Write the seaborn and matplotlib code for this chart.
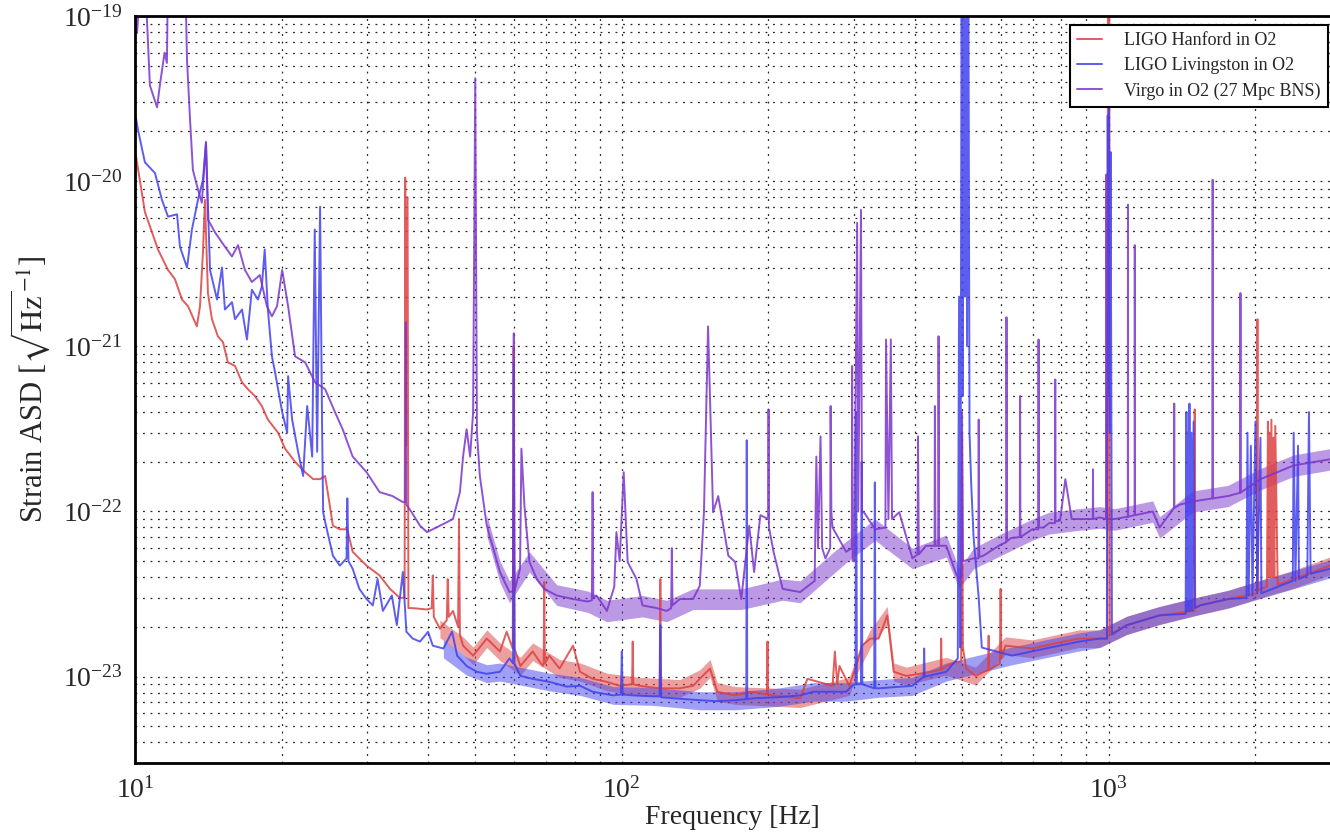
import matplotlib
matplotlib.use("Agg")
import matplotlib.pyplot as plt
import seaborn as sns
import pandas as pd
from matplotlib.ticker import LogLocator, NullFormatter, FixedLocator, LogFormatterMathtext

# ---------------- data: (frequency [Hz], strain ASD) ----------------
hanford_points = [
    (10.0, 1.55e-20), (10.48, 6.5e-21), (10.84, 4.9e-21), (11.15, 3.85e-21), (11.69, 2.9e-21),
    (12.08, 2.55e-21), (12.49, 1.92e-21), (12.85, 1.75e-21), (13.4, 1.32e-21), (13.6, 1.75e-21),
    (13.79, 3.7e-21), (13.92, 7.7e-21), (14.12, 2.1e-21), (14.39, 1.46e-21), (14.8, 1.15e-21),
    (15.16, 1.06e-21), (15.52, 8.0e-22), (16.05, 7.6e-22), (16.59, 6.05e-22), (17.06, 5.5e-22),
    (17.63, 5.0e-22), (18.22, 4.35e-22), (18.75, 3.6e-22), (19.67, 3.0e-22), (20.34, 2.4e-22),
    (21.32, 2.0e-22), (22.36, 1.73e-22), (23.23, 1.57e-22), (24.0, 1.57e-22), (24.58, 1.64e-22),
    (25.0, 1.2e-22), (25.5, 8.2e-23), (26.35, 7.8e-23), (27.3, 7.8e-23), (28.0, 5.7e-23),
    (29.9, 4.7e-23), (31.8, 4.1e-23), (33.4, 3.4e-23), (35.0, 3.0e-23), (35.8, 3.0e-23),
    (35.9, 1.05e-20), (36.05, 2.5e-22), (36.3, 8.0e-21), (36.45, 2.6e-23), (37.2, 2.6e-23),
    (39.8, 2.55e-23), (40.7, 2.6e-23), (40.9, 4.1e-23), (41.1, 2.3e-23), (42.3, 1.95e-23),
    (43.7, 2.2e-23), (43.9, 3.9e-23), (44.1, 2.3e-23), (45.0, 2.5e-23), (46.1, 2.0e-23),
    (46.3, 9.0e-23), (46.5, 1.8e-23), (47.2, 1.54e-23), (49.5, 1.34e-23), (52.8, 1.7e-23),
    (56.2, 1.42e-23), (58.0, 1.87e-23), (59.7, 1.48e-23), (59.95, 1.0e-21), (60.2, 1.48e-23),
    (61.9, 1.16e-23), (65.6, 1.42e-23), (68.8, 1.16e-23), (69.1, 1.2e-23), (69.3, 3.75e-23),
    (69.5, 1.2e-23), (71.0, 1.34e-23), (74.5, 1.12e-23), (79.4, 1.54e-23), (82.1, 1.07e-23),
    (87.1, 9.7e-24), (93.2, 9.3e-24), (99.1, 8.8e-24), (105.0, 9.0e-24), (105.3, 1.63e-23),
    (105.6, 9.0e-24), (108.8, 8.8e-24), (119.6, 8.5e-24), (120.0, 3.9e-23), (120.4, 8.5e-24),
    (131.6, 8.5e-24), (140.1, 8.8e-24), (144.6, 9.7e-24), (151.8, 1.12e-23), (157.1, 8.1e-24),
    (170.9, 7.7e-24), (184.4, 8.1e-24), (198.8, 7.8e-24), (199.2, 1.63e-23), (199.6, 7.8e-24),
    (205.0, 7.7e-24), (232.5, 7.4e-24), (240.6, 9.7e-24), (271.0, 8.8e-24), (274.0, 1.42e-23),
    (277.0, 9.0e-24), (280.0, 1.16e-23), (293.3, 8.8e-24), (303.0, 1.16e-23), (311.4, 1.54e-23),
    (324.0, 1.7e-23), (337.0, 1.7e-23), (351.0, 2.35e-23), (362.0, 1.07e-23), (384.0, 1.01e-23),
    (408.7, 1.04e-23), (452.0, 1.1e-23), (453.0, 1.7e-23), (454.0, 1.1e-23), (464.0, 1.16e-23),
    (486.0, 1.23e-23), (498.0, 1.23e-23), (500.0, 3.0e-22), (502.0, 1.5e-23), (510.0, 1.12e-23),
    (533.0, 1.01e-23), (566.0, 1.1e-23), (567.0, 1.77e-23), (568.0, 1.1e-23), (598.0, 1.2e-23),
    (600.0, 3.4e-23), (602.0, 1.3e-23), (614.0, 1.54e-23), (697.0, 1.48e-23), (808.0, 1.63e-23),
    (870.0, 1.7e-23), (958.0, 1.7e-23), (995.0, 1.7e-23), (997.0, 3.0e-19), (1000.0, 2.0e-21),
    (1003.0, 3.0e-19), (1006.0, 1.8e-23), (1090.0, 2.05e-23), (1273.0, 2.35e-23), (1500.0, 2.5e-23),
    (1503.0, 4.15e-22), (1506.0, 2.6e-23), (1541.0, 2.7e-23), (1760.0, 2.95e-23), (2018.0, 3.2e-23),
    (2022.0, 1.46e-21), (2026.0, 3.3e-23), (2051.0, 3.4e-23), (2115.0, 3.5e-23), (2125.0, 3.5e-22),
    (2130.0, 4.0e-23), (2140.0, 3.0e-22), (2150.0, 4.0e-23), (2160.0, 3.6e-22), (2170.0, 4.0e-23),
    (2180.0, 2.8e-22), (2190.0, 4.0e-23), (2200.0, 3.3e-22), (2225.0, 3.6e-23), (2400.0, 3.9e-23),
    (2850.0, 4.7e-23)]

livingston_points = [
    (10.0, 2.6e-20), (10.14, 2.05e-20), (10.48, 1.3e-20), (10.99, 1.12e-20), (11.36, 7.7e-21),
    (11.69, 6.1e-21), (12.2, 6.3e-21), (12.37, 4.0e-21), (12.79, 3.0e-21), (13.09, 5.1e-21),
    (13.47, 7.7e-21), (13.79, 1.02e-20), (13.99, 1.7e-20), (14.26, 2.9e-21), (14.74, 1.92e-21),
    (15.09, 3.0e-21), (15.3, 1.67e-21), (15.82, 1.85e-21), (16.05, 1.46e-21), (16.59, 1.67e-21),
    (16.98, 1.1e-21), (17.38, 2.2e-21), (17.89, 1.92e-21), (18.22, 2.3e-21), (18.47, 3.85e-21),
    (18.75, 1.67e-21), (19.11, 8.7e-22), (19.39, 7.0e-22), (20.06, 4.0e-22), (20.54, 3.0e-22),
    (20.63, 6.6e-22), (21.03, 3.6e-22), (21.63, 2.3e-22), (22.15, 1.64e-22), (22.58, 4.35e-22),
    (23.12, 2.15e-22), (23.4, 5.1e-21), (23.67, 2.3e-22), (24.0, 7.0e-21), (24.23, 3.15e-22),
    (24.35, 9.9e-23), (24.58, 8.65e-23), (25.5, 5.4e-23), (26.35, 4.7e-23), (27.2, 5.2e-23),
    (27.3, 1.2e-22), (27.45, 5.0e-23), (28.0, 4.5e-23), (28.9, 3.4e-23), (29.9, 2.95e-23),
    (30.8, 2.7e-23), (31.5, 3.9e-23), (32.3, 2.5e-23), (33.7, 3.1e-23), (34.5, 2.05e-23),
    (35.5, 4.3e-23), (36.1, 1.87e-23), (37.2, 1.7e-23), (38.5, 1.63e-23), (40.0, 1.87e-23),
    (40.9, 1.54e-23), (43.0, 1.48e-23), (44.8, 1.87e-23), (45.9, 1.34e-23), (48.0, 1.16e-23),
    (50.4, 1.07e-23), (52.8, 1.04e-23), (56.2, 1.07e-23), (58.8, 1.29e-23), (59.8, 1.2e-23),
    (60.0, 8.0e-22), (60.2, 1.2e-23), (61.9, 1.01e-23), (65.6, 9.7e-24), (71.0, 9.3e-24),
    (77.1, 8.7e-24), (82.1, 8.8e-24), (87.1, 8.1e-24), (96.0, 7.7e-24), (99.6, 7.8e-24),
    (100.0, 1.42e-23), (100.4, 7.8e-24), (105.3, 7.7e-24), (115.8, 7.6e-24), (119.6, 7.6e-24),
    (120.0, 2.05e-23), (120.4, 7.5e-24), (127.3, 7.4e-24), (144.6, 7.2e-24), (157.1, 7.1e-24),
    (170.9, 7.2e-24), (180.2, 7.3e-24), (180.6, 2.7e-22), (181.0, 7.3e-24), (187.0, 7.4e-24),
    (208.2, 7.5e-24), (232.5, 7.7e-24), (247.7, 8.1e-24), (289.0, 8.1e-24), (297.3, 8.8e-24),
    (302.0, 9.0e-24), (303.0, 4.0e-22), (304.0, 9.0e-24), (310.0, 9.0e-24), (311.0, 2.0e-22),
    (312.0, 9.0e-24), (330.0, 8.5e-24), (331.0, 1.5e-22), (332.0, 8.5e-24), (337.0, 8.5e-24),
    (395.0, 8.8e-24), (417.0, 1.0e-23), (418.0, 1.48e-23), (419.0, 1.0e-23), (464.0, 1.07e-23),
    (490.0, 1.29e-23), (493.0, 2.0e-21), (496.0, 1.5e-23), (499.0, 3.0e-19), (502.0, 5.0e-22),
    (504.0, 3.0e-19), (507.0, 2.0e-21), (509.0, 3.0e-19), (512.0, 1.0e-21), (515.0, 3.0e-19),
    (518.0, 3.0e-22), (522.0, 1.5e-22), (528.0, 7.0e-23), (541.0, 3.0e-23), (549.0, 1.5e-23),
    (633.0, 1.34e-23), (742.0, 1.48e-23), (870.0, 1.63e-23), (958.0, 1.7e-23), (992.0, 1.7e-23),
    (996.0, 2.5e-20), (999.0, 5.0e-22), (1002.0, 3.0e-20), (1006.0, 3.0e-22), (1010.0, 1.5e-20),
    (1016.0, 1.8e-23), (1090.0, 2.05e-23), (1273.0, 2.35e-23), (1440.0, 2.4e-23), (1445.0, 4.0e-22),
    (1450.0, 2.5e-23), (1455.0, 3.0e-22), (1460.0, 2.5e-23), (1466.0, 4.5e-22), (1472.0, 2.5e-23),
    (1480.0, 3.0e-22), (1487.0, 2.5e-23), (1495.0, 3.5e-22), (1505.0, 2.6e-23), (1541.0, 2.7e-23),
    (1760.0, 2.95e-23), (1920.0, 3.0e-23), (1929.0, 3.0e-22), (1940.0, 3.1e-23), (1960.0, 2.5e-22),
    (1975.0, 3.1e-23), (2003.0, 3.5e-22), (2020.0, 3.2e-23), (2051.0, 2.8e-22), (2060.0, 3.2e-23),
    (2390.0, 3.8e-23), (2400.0, 3.0e-22), (2420.0, 3.8e-23), (2450.0, 2.5e-22), (2460.0, 3.9e-23),
    (2560.0, 4.1e-23), (2580.0, 4.0e-22), (2600.0, 4.2e-23), (2850.0, 4.5e-23)]

virgo_points = [
    (10.0, 1.1e-19), (10.1, 7.9e-20), (10.4, 3.0e-19), (10.73, 3.8e-20), (11.1, 2.8e-20),
    (11.26, 3.9e-20), (11.5, 6.0e-20), (11.63, 5.2e-20), (11.69, 2.0e-19), (12.67, 2.0e-19),
    (12.79, 5.4e-20), (12.97, 2.4e-20), (13.15, 1.17e-20), (13.47, 8.9e-21), (13.72, 7.4e-21),
    (13.99, 1.73e-20), (14.12, 5.85e-21), (14.6, 4.9e-21), (15.09, 4.25e-21), (15.82, 3.5e-21),
    (16.28, 4.1e-21), (16.82, 2.9e-21), (17.38, 2.45e-21), (18.05, 2.7e-21), (18.66, 1.75e-21),
    (19.11, 1.52e-21), (19.58, 1.75e-21), (20.06, 2.9e-21), (20.63, 1.75e-21), (21.32, 8.7e-22),
    (22.36, 8.0e-22), (23.45, 6.05e-22), (24.58, 5.5e-22), (25.75, 4.0e-22), (26.7, 3.15e-22),
    (28.0, 2.15e-22), (29.9, 1.73e-22), (31.8, 1.31e-22), (33.8, 1.24e-22), (35.5, 1.14e-22),
    (35.9, 1.14e-22), (36.0, 1.4e-21), (36.1, 1.1e-22), (37.0, 9.9e-23), (38.5, 8.2e-23),
    (39.8, 7.5e-23), (42.3, 8.2e-23), (45.0, 9.0e-23), (46.5, 1.31e-22), (47.2, 2.15e-22),
    (48.0, 3.15e-22), (48.8, 2.15e-22), (49.5, 4.0e-22), (50.0, 4.2e-20), (50.4, 3.0e-22),
    (51.1, 1.64e-22), (52.8, 8.2e-23), (56.2, 4.3e-23), (58.8, 3.25e-23), (59.8, 3.3e-23),
    (60.0, 1.2e-21), (60.2, 3.3e-23), (61.8, 4.5e-23), (62.2, 2.4e-22), (63.1, 1.08e-22),
    (64.6, 4.95e-23), (66.9, 3.9e-23), (69.3, 3.4e-23), (73.5, 3.1e-23), (79.4, 2.95e-23),
    (85.1, 2.85e-23), (86.8, 2.9e-23), (87.1, 1.31e-22), (87.4, 3.0e-23), (88.7, 3.1e-23),
    (93.2, 2.5e-23), (96.5, 3.5e-23), (97.5, 7.5e-23), (99.0, 5.0e-23), (100.9, 1.73e-22),
    (102.8, 4.95e-23), (107.2, 3.9e-23), (110.3, 2.7e-23), (118.0, 2.6e-23), (123.7, 2.5e-23),
    (126.3, 2.6e-23), (126.7, 6.0e-23), (127.1, 2.7e-23), (131.6, 2.95e-23), (140.1, 2.95e-23),
    (144.6, 3.55e-23), (147.5, 9.9e-23), (150.4, 1.32e-21), (154.0, 9.9e-23), (157.8, 1.24e-22),
    (165.5, 5.4e-23), (170.9, 4.95e-23), (176.0, 2.95e-23), (182.7, 8.2e-23), (187.0, 4.3e-23),
    (192.6, 9.5e-23), (199.8, 9.0e-23), (200.2, 4.15e-22), (200.6, 8.0e-23), (205.0, 5.7e-23),
    (214.0, 3.4e-23), (232.5, 3.25e-23), (249.0, 3.8e-23), (251.0, 2.15e-22), (253.0, 6.0e-23),
    (256.0, 2.85e-22), (258.0, 6.0e-23), (262.0, 5.2e-23), (268.0, 6.0e-23), (268.5, 4.35e-22),
    (269.5, 9.9e-23), (271.0, 8.0e-23), (289.0, 5.7e-23), (296.8, 6.0e-23), (297.3, 7.6e-22),
    (298.0, 5.0e-23), (300.0, 5.0e-23), (304.4, 5.6e-21), (306.0, 1.0e-22), (310.0, 6.7e-21),
    (311.5, 9.9e-23), (314.3, 9.9e-23), (331.5, 7.8e-23), (348.0, 8.0e-23), (349.0, 1.1e-21),
    (353.0, 9.0e-23), (357.0, 1.1e-21), (359.0, 9.0e-23), (371.5, 9.9e-23), (395.4, 5.2e-23),
    (405.0, 5.5e-23), (406.0, 2.85e-22), (407.5, 5.5e-23), (421.6, 6.2e-23), (439.0, 6.2e-23),
    (439.7, 4.35e-22), (441.0, 6.2e-23), (446.5, 6.2e-23), (447.4, 1.15e-21), (448.5, 6.2e-23),
    (464.0, 6.2e-23), (486.0, 4.2e-23), (493.0, 3.9e-23), (499.0, 4.0e-23), (500.0, 4.0e-22),
    (502.0, 5.0e-23), (528.0, 5.2e-23), (540.0, 5.2e-23), (541.0, 3.6e-22), (542.5, 5.3e-23),
    (553.0, 5.4e-23), (600.0, 6.3e-23), (616.0, 6.5e-23), (617.0, 1.5e-21), (618.5, 6.6e-23),
    (630.0, 6.9e-23), (657.0, 7.0e-23), (658.0, 5.0e-22), (659.0, 7.0e-23), (697.0, 7.8e-23),
    (717.0, 7.8e-23), (718.0, 1.1e-21), (719.0, 8.0e-23), (735.0, 8.0e-23), (755.0, 8.5e-23),
    (776.0, 8.5e-23), (777.0, 6.3e-22), (778.0, 8.7e-23), (795.0, 8.8e-23), (815.0, 1.57e-22),
    (840.0, 9.0e-23), (870.0, 9.0e-23), (928.0, 9.0e-23), (929.0, 1.8e-22), (930.0, 9.0e-23),
    (958.0, 9.2e-23), (989.0, 9.0e-23), (990.0, 1.1e-20), (991.0, 9.0e-23), (1030.0, 9.0e-23),
    (1095.0, 9.3e-23), (1096.0, 7.2e-21), (1097.0, 9.3e-23), (1131.0, 9.5e-23), (1132.0, 4.1e-21),
    (1133.0, 9.5e-23), (1232.0, 1.0e-22), (1273.0, 8.0e-23), (1363.0, 1.05e-22), (1364.0, 4.5e-22),
    (1365.0, 1.05e-22), (1400.0, 1.1e-22), (1488.0, 1.15e-22), (1635.0, 1.2e-22), (1636.0, 1.02e-20),
    (1637.0, 1.2e-22), (1760.0, 1.24e-22), (1865.0, 1.3e-22), (1866.0, 2.1e-21), (1867.0, 1.3e-22),
    (2051.0, 1.57e-22), (2400.0, 1.9e-22), (2850.0, 2.07e-22)]

# noise envelope of each floor (frequency, lower edge, upper edge)
hanford_band = [
    (42.3, 1.72e-23, 2.2e-23), (47.2, 1.36e-23, 1.74e-23), (49.5, 1.18e-23, 1.51e-23),
    (52.8, 1.5e-23, 1.92e-23), (56.2, 1.25e-23, 1.6e-23), (61.9, 1.02e-23, 1.31e-23),
    (65.6, 1.25e-23, 1.6e-23), (74.5, 9.9e-24, 1.27e-23), (82.1, 9.4e-24, 1.21e-23),
    (93.2, 8.2e-24, 1.05e-23), (108.8, 7.7e-24, 9.9e-24), (131.6, 7.5e-24, 9.6e-24),
    (144.6, 8.5e-24, 1.1e-23), (151.8, 9.9e-24, 1.27e-23), (157.1, 7.1e-24, 9.2e-24),
    (170.9, 6.8e-24, 8.7e-24), (232.5, 6.5e-24, 8.4e-24), (293.3, 7.7e-24, 9.9e-24),
    (303.0, 1.02e-23, 1.31e-23), (324.0, 1.5e-23, 1.92e-23), (351.0, 2.07e-23, 2.66e-23),
    (362.0, 9.4e-24, 1.21e-23), (384.0, 8.9e-24, 1.14e-23), (464.0, 1.02e-23, 1.31e-23),
    (533.0, 8.9e-24, 1.14e-23), (614.0, 1.36e-23, 1.74e-23), (697.0, 1.3e-23, 1.67e-23),
    (870.0, 1.5e-23, 1.92e-23), (958.0, 1.5e-23, 1.92e-23), (1090.0, 1.8e-23, 2.32e-23),
    (1273.0, 2.07e-23, 2.66e-23), (1541.0, 2.38e-23, 3.05e-23), (1760.0, 2.6e-23, 3.33e-23),
    (2051.0, 3.0e-23, 3.84e-23), (2400.0, 3.43e-23, 4.41e-23), (2850.0, 4.14e-23, 5.31e-23)]

livingston_band = [
    (43.0, 1.3e-23, 1.67e-23), (48.0, 1.02e-23, 1.31e-23), (52.8, 9.2e-24, 1.18e-23),
    (56.2, 9.4e-24, 1.21e-23), (61.9, 8.9e-24, 1.14e-23), (71.0, 8.2e-24, 1.05e-23),
    (82.1, 7.7e-24, 9.9e-24), (96.0, 6.8e-24, 8.7e-24), (115.8, 6.7e-24, 8.6e-24),
    (144.6, 6.3e-24, 8.1e-24), (170.9, 6.3e-24, 8.1e-24), (208.2, 6.6e-24, 8.5e-24),
    (247.7, 7.1e-24, 9.2e-24), (289.0, 7.1e-24, 9.2e-24), (337.0, 7.5e-24, 9.6e-24),
    (395.0, 7.7e-24, 9.9e-24), (464.0, 9.4e-24, 1.21e-23), (633.0, 1.18e-23, 1.51e-23),
    (742.0, 1.3e-23, 1.67e-23), (870.0, 1.43e-23, 1.84e-23), (958.0, 1.5e-23, 1.92e-23),
    (1090.0, 1.8e-23, 2.32e-23), (1273.0, 2.07e-23, 2.66e-23), (1541.0, 2.38e-23, 3.05e-23),
    (1760.0, 2.6e-23, 3.33e-23), (2850.0, 3.96e-23, 5.09e-23)]

virgo_band = [
    (52.8, 7.1e-23, 9.5e-23), (56.2, 3.7e-23, 5.0e-23), (58.8, 2.8e-23, 3.8e-23),
    (64.6, 4.3e-23, 5.7e-23), (73.5, 2.7e-23, 3.6e-23), (85.1, 2.45e-23, 3.3e-23),
    (93.2, 2.15e-23, 2.9e-23), (110.3, 2.3e-23, 3.1e-23), (123.7, 2.15e-23, 2.9e-23),
    (140.1, 2.55e-23, 3.4e-23), (176.0, 2.55e-23, 3.4e-23), (214.0, 2.9e-23, 3.9e-23),
    (232.5, 2.8e-23, 3.8e-23), (289.0, 4.9e-23, 6.6e-23), (331.5, 6.7e-23, 9.0e-23),
    (395.4, 4.5e-23, 6.0e-23), (464.0, 5.3e-23, 7.2e-23), (493.0, 3.4e-23, 4.5e-23),
    (528.0, 4.5e-23, 6.0e-23), (600.0, 5.4e-23, 7.3e-23), (697.0, 6.7e-23, 9.0e-23),
    (755.0, 7.3e-23, 9.9e-23), (870.0, 7.7e-23, 1.04e-22), (958.0, 7.9e-23, 1.07e-22),
    (1030.0, 7.7e-23, 1.04e-22), (1232.0, 8.6e-23, 1.16e-22), (1273.0, 6.9e-23, 9.3e-23),
    (1488.0, 9.9e-23, 1.33e-22), (1760.0, 1.07e-22, 1.44e-22), (2051.0, 1.35e-22, 1.82e-22),
    (2400.0, 1.63e-22, 2.2e-22), (2850.0, 1.78e-22, 2.4e-22)]

series_labels = ["LIGO Hanford in O2", "LIGO Livingston in O2", "Virgo in O2 (27 Mpc BNS)"]
series_colors = ["#dd4040", "#4040ee", "#7a35cc"]
x_major_ticks = [10, 100, 1000]
y_major_ticks = [1e-23, 1e-22, 1e-21, 1e-20, 1e-19]

# ---------------- style ----------------
sns.set_style("white")
plt.rcParams["font.family"] = ["Liberation Serif", "DejaVu Serif"]
plt.rcParams["mathtext.fontset"] = "stix"

fig = plt.figure(figsize=(13.3, 8.36), dpi=100)
ax = fig.add_axes([135 / 1330, 73 / 836, 1 - 135 / 1330, (763 - 16) / 836])

all_points = [hanford_points, livingston_points, virgo_points]
all_bands = [hanford_band, livingston_band, virgo_band]
for pts, band, lab, col in zip(all_points, all_bands, series_labels, series_colors):
    bdf = pd.DataFrame(band, columns=["freq", "lo", "hi"])
    ax.fill_between(bdf["freq"], bdf["lo"], bdf["hi"], color=col, alpha=0.5, linewidth=0)
    df = pd.DataFrame(pts, columns=["freq", "asd"])
    sns.lineplot(data=df, x="freq", y="asd", sort=False, estimator=None, ax=ax,
                 color=col, linewidth=1.4, alpha=0.85, label=lab)

ax.set_xscale("log")
ax.set_yscale("log")
ax.set_xlim(10, 2850)
ax.set_ylim(3e-24, 1e-19)

ax.xaxis.set_major_locator(FixedLocator(x_major_ticks))
ax.yaxis.set_major_locator(FixedLocator(y_major_ticks))
ax.xaxis.set_major_formatter(LogFormatterMathtext())
ax.yaxis.set_major_formatter(LogFormatterMathtext())
ax.xaxis.set_minor_locator(LogLocator(base=10, subs=range(2, 10)))
ax.yaxis.set_minor_locator(LogLocator(base=10, subs=range(2, 10)))
ax.xaxis.set_minor_formatter(NullFormatter())
ax.yaxis.set_minor_formatter(NullFormatter())

ax.grid(True, which="both", color="black", linestyle=(0, (1.5, 4.5)), linewidth=0.9, alpha=0.85)
ax.tick_params(which="both", direction="in", top=False, right=False, labelsize=20)
ax.tick_params(axis="x", pad=10)
ax.tick_params(axis="y", pad=9)
ax.tick_params(which="major", length=9, width=1.2)
ax.tick_params(which="minor", length=4.5, width=0.9)
for side in ["left", "bottom", "top"]:
    ax.spines[side].set_linewidth(2)
    ax.spines[side].set_color("black")
ax.spines["right"].set_visible(False)

ax.set_xlabel("Frequency [Hz]", fontsize=20, labelpad=1)
ax.set_ylabel(r"Strain ASD [$\sqrt{\mathrm{Hz}}^{-1}$]", fontsize=22, labelpad=8)

leg = ax.legend(loc="upper right", bbox_to_anchor=(0.998, 0.988), fontsize=13, frameon=True,
                fancybox=False, handlelength=1.4, borderpad=0.4, labelspacing=0.45,
                handletextpad=1.2, borderaxespad=0.0)
leg.get_frame().set_edgecolor("black")
leg.get_frame().set_linewidth(1.5)
leg.get_frame().set_alpha(1.0)

fig.savefig("out.png", dpi=100)
